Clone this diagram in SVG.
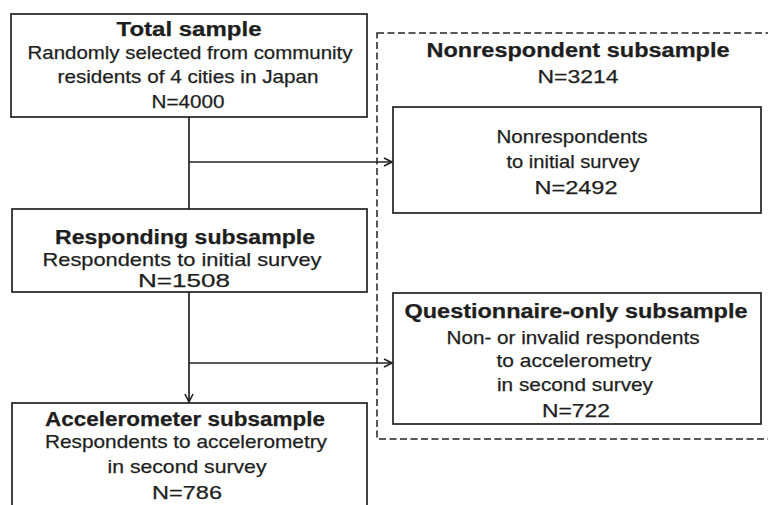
<svg xmlns="http://www.w3.org/2000/svg" width="768" height="505" viewBox="0 0 768 505">
<defs>
<style>
.box{fill:#fff;stroke:#222;stroke-width:1.7}
.dash{fill:none;stroke:#222;stroke-width:1.5;stroke-dasharray:7,3.5}
.ln{fill:none;stroke:#222;stroke-width:1.7}
text{font-family:"Liberation Sans",Arial,sans-serif;fill:#1e1e1e;text-anchor:middle;font-size:19px;stroke:#1e1e1e;stroke-width:0.25}
.b{font-weight:bold;font-size:20px}
</style>
<marker id="ah" markerWidth="10" markerHeight="10" refX="9" refY="5" orient="auto" markerUnits="userSpaceOnUse">
<path d="M1,1 L9,5 L1,9" fill="none" stroke="#222" stroke-width="1.6"/>
</marker>
</defs>
<rect width="768" height="505" fill="#fff"/>
<g id="nonrespondent-group">
<rect class="dash" x="377" y="33" width="400" height="406"/>
<text class="b" x="578" y="57" textLength="303" lengthAdjust="spacingAndGlyphs">Nonrespondent subsample</text>
<text x="578" y="83" textLength="81" lengthAdjust="spacingAndGlyphs">N=3214</text>
</g>
<g id="connectors">
<line class="ln" x1="189" y1="117" x2="189" y2="209"/>
<line class="ln" x1="189" y1="162" x2="392" y2="162" marker-end="url(#ah)"/>
<line class="ln" x1="189" y1="292" x2="189" y2="402" marker-end="url(#ah)"/>
<line class="ln" x1="189" y1="363" x2="392" y2="363" marker-end="url(#ah)"/>
</g>
<g id="total">
<rect class="box" x="11" y="14" width="356" height="103"/>
<text class="b" x="189" y="36" textLength="145" lengthAdjust="spacingAndGlyphs">Total sample</text>
<text x="190" y="59" textLength="325" lengthAdjust="spacingAndGlyphs">Randomly selected from community</text>
<text x="188" y="83" textLength="261" lengthAdjust="spacingAndGlyphs">residents of 4 cities in Japan</text>
<text x="188" y="108" textLength="73" lengthAdjust="spacingAndGlyphs">N=4000</text>
</g>
<g id="nonrespondents">
<rect class="box" x="393" y="107" width="368" height="106"/>
<text x="572" y="143" textLength="151" lengthAdjust="spacingAndGlyphs">Nonrespondents</text>
<text x="573" y="168" textLength="133" lengthAdjust="spacingAndGlyphs">to initial survey</text>
<text x="576" y="194" textLength="83" lengthAdjust="spacingAndGlyphs">N=2492</text>
</g>
<g id="responding">
<rect class="box" x="12" y="209" width="355" height="83"/>
<text class="b" x="185" y="244" textLength="260" lengthAdjust="spacingAndGlyphs">Responding subsample</text>
<text x="182" y="266" textLength="279" lengthAdjust="spacingAndGlyphs">Respondents to initial survey</text>
<text x="184" y="287" font-size="20" textLength="92" lengthAdjust="spacingAndGlyphs">N=1508</text>
</g>
<g id="questionnaire">
<rect class="box" x="393" y="293" width="368" height="131"/>
<text class="b" x="576" y="318" textLength="343" lengthAdjust="spacingAndGlyphs">Questionnaire-only subsample</text>
<text x="573" y="344" textLength="253" lengthAdjust="spacingAndGlyphs">Non- or invalid respondents</text>
<text x="574" y="367" textLength="155" lengthAdjust="spacingAndGlyphs">to accelerometry</text>
<text x="575" y="391" textLength="156" lengthAdjust="spacingAndGlyphs">in second survey</text>
<text x="576" y="417" textLength="68" lengthAdjust="spacingAndGlyphs">N=722</text>
</g>
<g id="accelerometer">
<rect class="box" x="12" y="403" width="355" height="110"/>
<text class="b" x="185" y="426" textLength="280" lengthAdjust="spacingAndGlyphs">Accelerometer subsample</text>
<text x="186" y="448" textLength="282" lengthAdjust="spacingAndGlyphs">Respondents to accelerometry</text>
<text x="187" y="473" textLength="159" lengthAdjust="spacingAndGlyphs">in second survey</text>
<text x="187" y="499" textLength="70" lengthAdjust="spacingAndGlyphs">N=786</text>
</g>
</svg>
